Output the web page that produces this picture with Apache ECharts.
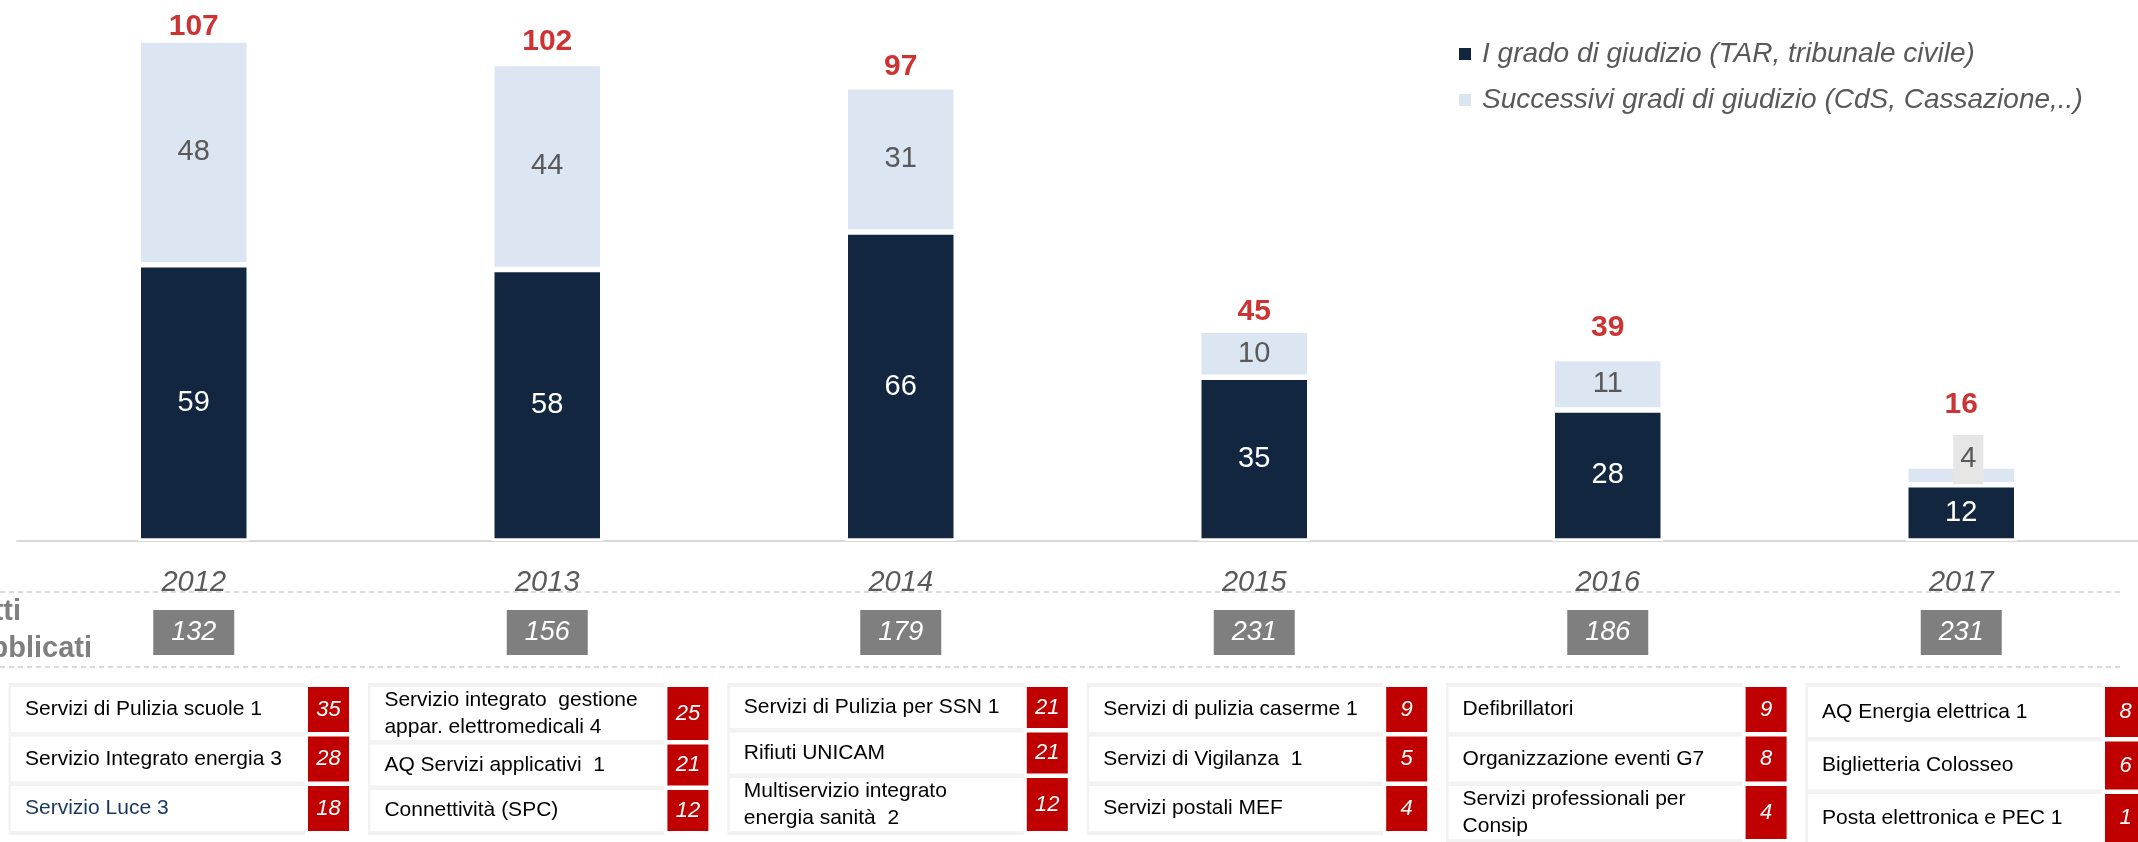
<!DOCTYPE html>
<html>
<head>
<meta charset="utf-8">
<script src="https://cdn.jsdelivr.net/npm/echarts@6/dist/echarts.min.js"></script>
<style>
  html, body { margin: 0; padding: 0; background: #fff; }
  #chart { width: 2138px; height: 842px; }
</style>
</head>
<body>
<div id="chart"></div>
<script>
// dati
const years = ['2012', '2013', '2014', '2015', '2016', '2017'];
const firstDegree = [59, 58, 66, 35, 28, 12];
const laterDegrees = [48, 44, 31, 10, 11, 4];
const published = [132, 156, 179, 231, 186, 231];

const topNames = [
  ['Servizi di Pulizia scuole 1', 'Servizio Integrato energia 3', 'Servizio Luce 3'],
  ['Servizio integrato  gestione\nappar. elettromedicali 4', 'AQ Servizi applicativi  1', 'Connettività (SPC)'],
  ['Servizi di Pulizia per SSN 1', 'Rifiuti UNICAM', 'Multiservizio integrato\nenergia sanità  2'],
  ['Servizi di pulizia caserme 1', 'Servizi di Vigilanza  1', 'Servizi postali MEF'],
  ['Defibrillatori', 'Organizzazione eventi G7', 'Servizi professionali per\nConsip'],
  ['AQ Energia elettrica 1', 'Biglietteria Colosseo', 'Posta elettronica e PEC 1']
];
const topCounts = [[35, 28, 18], [25, 21, 12], [21, 21, 12], [9, 5, 4], [9, 8, 4], [8, 6, 1]];

const totals = firstDegree.map((v, i) => v + laterDegrees[i]);

// stile / layout
const FONT = "'Liberation Sans', Arial, sans-serif";
const DARK = '#13263f';
const LIGHT = '#dce6f2';
const RED = '#c00000';
const GREY_TXT = '#595959';
const totalLift = [-2, 6, 5, 3, 15, 46];
const navyNames = ['Servizio Luce 3'];

const tableLeft = 11;
const tableStep = 359.4;
const cellW = 294;
const redW = 41;
const redGap = 3;
const tableTop = 687;
const rowGap = 4.5;
const rowHeights = [[45, 45, 45], [53, 41, 41], [41, 41, 53], [45, 45, 45], [45, 45, 53], [50, 48, 48]];

const chart = echarts.init(document.getElementById('chart'));

const graphics = [];

// linee tratteggiate
[592, 667].forEach(y => {
  graphics.push({
    type: 'line', silent: true,
    shape: { x1: 0, y1: y, x2: 2122, y2: y },
    style: { stroke: '#d0d0d0', lineWidth: 1.5, lineDash: [5, 4] }
  });
});

// etichetta "Atti pubblicati" (tagliata a sinistra)
graphics.push({
  type: 'text', x: 21, y: 612,
  style: { text: 'Atti', fontFamily: FONT, fontSize: 29, fontWeight: 'bold', fill: '#7f7f7f', align: 'right', verticalAlign: 'middle' }
});
graphics.push({
  type: 'text', x: 92, y: 649,
  style: { text: 'pubblicati', fontFamily: FONT, fontSize: 29, fontWeight: 'bold', fill: '#7f7f7f', align: 'right', verticalAlign: 'middle' }
});

// tabella dei contratti
topNames.forEach((col, c) => {
  const x0 = tableLeft + c * tableStep;
  const hs = rowHeights[c];
  const h = hs.reduce((a, b) => a + b, 0) + rowGap * (hs.length - 1);
  graphics.push({
    type: 'rect', silent: true,
    shape: { x: x0 - 2.5, y: tableTop - 4, width: cellW + 2.5, height: h + 8 },
    style: { fill: '#f2f2f2' }
  });
  let y = tableTop;
  col.forEach((name, r) => {
    const rh = hs[r];
    graphics.push({ type: 'rect', silent: true, shape: { x: x0, y: y, width: cellW, height: rh }, style: { fill: '#fff' } });
    graphics.push({ type: 'rect', silent: true, shape: { x: x0 + cellW + redGap, y: y, width: redW, height: rh }, style: { fill: RED } });
    graphics.push({
      type: 'text', x: x0 + 14, y: y + rh / 2,
      style: {
        text: name, fontFamily: FONT, fontSize: 21, lineHeight: 27,
        fill: navyNames.includes(name) ? '#17375e' : '#000',
        align: 'left', verticalAlign: 'middle'
      }
    });
    graphics.push({
      type: 'text', x: x0 + cellW + redGap + redW / 2, y: y + rh / 2,
      style: {
        text: String(topCounts[c][r]), fontFamily: FONT, fontSize: 22, fontStyle: 'italic',
        fill: '#fff', align: 'center', verticalAlign: 'middle'
      }
    });
    y += rh + rowGap;
  });
});

const option = {
  animation: false,
  textStyle: { fontFamily: FONT },
  grid: { left: 17, top: 26, width: 2130, height: 515 },
  legend: {
    data: ['I grado di giudizio (TAR, tribunale civile)', 'Successivi gradi di giudizio (CdS, Cassazione,..)'],
    orient: 'vertical',
    left: 1454,
    top: 35,
    icon: 'rect',
    itemWidth: 12,
    itemHeight: 12,
    itemGap: 18,
    itemStyle: { borderWidth: 0 },
    textStyle: { fontFamily: FONT, fontSize: 28, fontStyle: 'italic', color: GREY_TXT, padding: [0, 0, 0, 6] }
  },
  xAxis: [
    {
      type: 'category',
      data: years,
      axisLine: { lineStyle: { color: '#d9d9d9', width: 2 } },
      axisTick: { length: 11, lineStyle: { color: '#d9d9d9', width: 2 } },
      axisLabel: { margin: 27, fontSize: 29, fontStyle: 'italic', color: GREY_TXT, fontFamily: FONT }
    },
    {
      type: 'category',
      data: years,
      position: 'bottom',
      axisLine: { show: false },
      axisTick: { show: false },
      axisLabel: {
        margin: 69,
        formatter: (v, i) => '{b|' + published[i] + '}',
        rich: {
          b: {
            width: 81, height: 45, lineHeight: 45, align: 'center',
            backgroundColor: '#7f7f7f', color: '#fff',
            fontSize: 27, fontStyle: 'italic', fontFamily: FONT
          }
        }
      }
    }
  ],
  yAxis: { type: 'value', min: 0, max: 110, show: false },
  series: [
    {
      name: 'I grado di giudizio (TAR, tribunale civile)',
      type: 'bar',
      stack: 'tot',
      barWidth: 111,
      data: firstDegree,
      itemStyle: { color: DARK, borderColor: '#fff', borderWidth: 2.75 },
      label: { show: true, position: 'inside', color: '#fff', fontSize: 29, fontFamily: FONT }
    },
    {
      name: 'Successivi gradi di giudizio (CdS, Cassazione,..)',
      type: 'bar',
      stack: 'tot',
      data: laterDegrees.map((v, i) => i === 5
        ? { value: v, label: { offset: [7, -16], backgroundColor: '#e6e6e6', padding: [10, 7] } }
        : v),
      itemStyle: { color: LIGHT, borderColor: '#fff', borderWidth: 2.75 },
      label: { show: true, position: 'inside', color: GREY_TXT, fontSize: 29, fontFamily: FONT }
    },
    {
      name: 'totale',
      type: 'scatter',
      symbolSize: 1,
      data: totals.map((v, i) => ({ value: v, label: { distance: totalLift[i] } })),
      itemStyle: { color: 'rgba(0,0,0,0)' },
      label: { show: true, position: 'top', color: RED, fontWeight: 'bold', fontSize: 30, fontFamily: FONT },
      z: 5
    }
  ],
  graphic: graphics
};

chart.setOption(option);
</script>
</body>
</html>
